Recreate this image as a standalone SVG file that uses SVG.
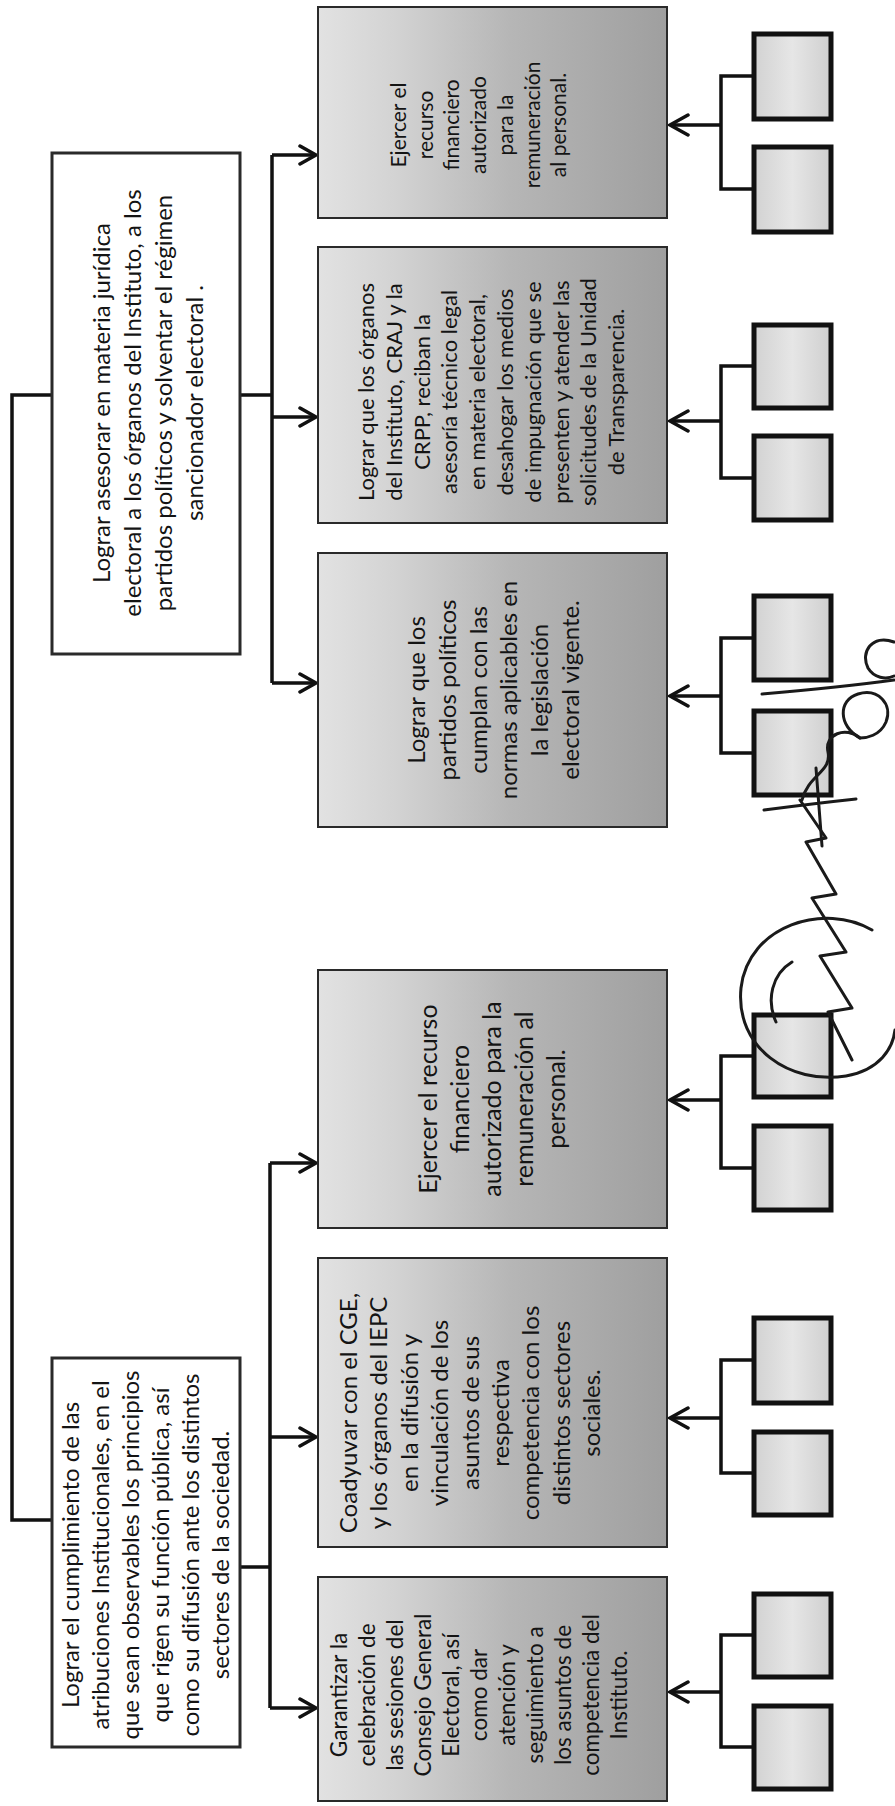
<svg xmlns="http://www.w3.org/2000/svg" width="895" height="1806" viewBox="0 0 895 1806">
<defs>
<linearGradient id="gBox" x1="0" y1="0" x2="1" y2="0">
<stop offset="0" stop-color="#e2e2e2"/>
<stop offset="0.22" stop-color="#d3d3d3"/>
<stop offset="0.55" stop-color="#b6b6b6"/>
<stop offset="1" stop-color="#9f9f9f"/>
</linearGradient>
<linearGradient id="gSq" x1="0" y1="0" x2="1" y2="0">
<stop offset="0" stop-color="#d2d2d2"/>
<stop offset="0.5" stop-color="#e6e6e6"/>
<stop offset="1" stop-color="#cfcfcf"/>
</linearGradient>
<style>
.main{fill:#fff;stroke:#2a2a2a;stroke-width:3}
.child{fill:url(#gBox);stroke:#2a2a2a;stroke-width:2}
.sq{fill:url(#gSq);stroke:#111;stroke-width:5}
.ln{fill:none;stroke:#111;stroke-width:3.5}
.ah{fill:none;stroke:#111;stroke-width:3.5;stroke-linecap:round;stroke-linejoin:miter}
.sig{fill:none;stroke:#1a1a1a;stroke-width:3;stroke-linecap:round;stroke-linejoin:round}
text{font-family:Lato,"Liberation Sans",sans-serif;fill:#141414;text-anchor:middle}
</style>
</defs>

<g id="connectors">
<path class="ln" d="M52 395 H12 V1520 H52"/>
<path class="ln" d="M240 395 H272 M272 155 V683 M272 155 H316 M272 417 H316 M272 683 H316"/>
<path class="ah" d="M300 146 L316 155 L300 164 M300 408 L316 417 L300 426 M300 674 L316 683 L300 692"/>
<path class="ln" d="M240 1567 H270 M270 1163 V1708 M270 1163 H316 M270 1437 H316 M270 1708 H316"/>
<path class="ah" d="M300 1154 L316 1163 L300 1172 M300 1428 L316 1437 L300 1446 M300 1699 L316 1708 L300 1717"/>
<path class="ln" d="M754 76 H721 V189 H754 M721 125 H670 M754 366 H721 V478 H754 M721 421 H670 M754 638 H721 V753 H754 M721 696 H670 M754 1056 H721 V1168 H754 M721 1100 H670 M754 1360 H721 V1473 H754 M721 1418 H670 M754 1635 H721 V1747 H754 M721 1692 H670"/>
<path class="ah" d="M688 115 L670 125 L688 135 M688 411 L670 421 L688 431 M688 686 L670 696 L688 706 M688 1090 L670 1100 L688 1110 M688 1408 L670 1418 L688 1428 M688 1682 L670 1692 L688 1702"/>
</g>

<g id="n-asesorar">
<rect class="main" x="52" y="153" width="188" height="501"/>
<text font-size="24" transform="translate(110,403) rotate(-90)"><tspan x="0" y="0">Lograr asesorar en materia jurídica</tspan><tspan x="0" dy="31">electoral a los órganos del Instituto, a los</tspan><tspan x="0" dy="31">partidos políticos y solventar el régimen</tspan><tspan x="0" dy="31">sancionador electoral .</tspan></text>
</g>

<g id="n-cumplimiento">
<rect class="main" x="52" y="1358" width="188" height="389"/>
<text font-size="24" transform="translate(79,1555) rotate(-90)"><tspan x="0" y="0">Lograr el cumplimiento de las</tspan><tspan x="0" dy="30">atribuciones Institucionales, en el</tspan><tspan x="0" dy="30">que sean observables los principios</tspan><tspan x="0" dy="30">que rigen su función pública, así</tspan><tspan x="0" dy="30">como su difusión ante los distintos</tspan><tspan x="0" dy="30">sectores de la sociedad.</tspan></text>
</g>

<g id="n-ejercer-r">
<rect class="child" x="318" y="7" width="349" height="211"/>
<text font-size="21" transform="translate(406,125) rotate(-90)"><tspan x="0" y="0">Ejercer el</tspan><tspan x="0" dy="26.7">recurso</tspan><tspan x="0" dy="26.7">financiero</tspan><tspan x="0" dy="26.7">autorizado</tspan><tspan x="0" dy="26.7">para la</tspan><tspan x="0" dy="26.7">remuneración</tspan><tspan x="0" dy="26.7">al personal.</tspan></text>
</g>

<g id="n-crpp">
<rect class="child" x="318" y="247" width="349" height="276"/>
<text font-size="22" transform="translate(374,392) rotate(-90)"><tspan x="0" y="0">Lograr que los órganos</tspan><tspan x="0" dy="27.8">del Instituto, CRAJ y la</tspan><tspan x="0" dy="27.8">CRPP, reciban la</tspan><tspan x="0" dy="27.8">asesoría técnico legal</tspan><tspan x="0" dy="27.8">en materia electoral,</tspan><tspan x="0" dy="27.8">desahogar los medios</tspan><tspan x="0" dy="27.8">de impugnación que se</tspan><tspan x="0" dy="27.8">presenten y atender las</tspan><tspan x="0" dy="27.8">solicitudes de la Unidad</tspan><tspan x="0" dy="27.8">de Transparencia.</tspan></text>
</g>

<g id="n-partidos">
<rect class="child" x="318" y="553" width="349" height="274"/>
<text font-size="24" transform="translate(425,690) rotate(-90)"><tspan x="0" y="0">Lograr que los</tspan><tspan x="0" dy="30.8">partidos políticos</tspan><tspan x="0" dy="30.8">cumplan con las</tspan><tspan x="0" dy="30.8">normas aplicables en</tspan><tspan x="0" dy="30.8">la legislación</tspan><tspan x="0" dy="30.8">electoral vigente.</tspan></text>
</g>

<g id="n-ejercer-l">
<rect class="child" x="318" y="970" width="349" height="258"/>
<text font-size="25" transform="translate(437,1099) rotate(-90)"><tspan x="0" y="0">Ejercer el recurso</tspan><tspan x="0" dy="32">financiero</tspan><tspan x="0" dy="32">autorizado para la</tspan><tspan x="0" dy="32">remuneración al</tspan><tspan x="0" dy="32">personal.</tspan></text>
</g>

<g id="n-coadyuvar">
<rect class="child" x="318" y="1258" width="349" height="289"/>
<text font-size="24" transform="translate(357,1413) rotate(-90)"><tspan x="0" y="0">Coadyuvar con el CGE,</tspan><tspan x="0" dy="30.4">y los órganos del IEPC</tspan><tspan x="0" dy="30.4">en la difusión y</tspan><tspan x="0" dy="30.4">vinculación de los</tspan><tspan x="0" dy="30.4">asuntos de sus</tspan><tspan x="0" dy="30.4">respectiva</tspan><tspan x="0" dy="30.4">competencia con los</tspan><tspan x="0" dy="30.4">distintos sectores</tspan><tspan x="0" dy="30.4">sociales.</tspan></text>
</g>

<g id="n-garantizar">
<rect class="child" x="318" y="1577" width="349" height="224"/>
<text font-size="22.5" transform="translate(347,1695) rotate(-90)"><tspan x="0" y="0">Garantizar la</tspan><tspan x="0" dy="28">celebración de</tspan><tspan x="0" dy="28">las sesiones del</tspan><tspan x="0" dy="28">Consejo General</tspan><tspan x="0" dy="28">Electoral, así</tspan><tspan x="0" dy="28">como dar</tspan><tspan x="0" dy="28">atención y</tspan><tspan x="0" dy="28">seguimiento a</tspan><tspan x="0" dy="28">los asuntos de</tspan><tspan x="0" dy="28">competencia del</tspan><tspan x="0" dy="28">Instituto.</tspan></text>
</g>

<g id="leaves">
<rect class="sq" x="754" y="34" width="77" height="85"/>
<rect class="sq" x="754" y="147" width="77" height="85"/>
<rect class="sq" x="754" y="325" width="77" height="83"/>
<rect class="sq" x="754" y="436" width="77" height="84"/>
<rect class="sq" x="754" y="596" width="77" height="84"/>
<rect class="sq" x="754" y="711" width="77" height="84"/>
<rect class="sq" x="754" y="1015" width="77" height="82"/>
<rect class="sq" x="754" y="1126" width="77" height="84"/>
<rect class="sq" x="754" y="1318" width="77" height="85"/>
<rect class="sq" x="754" y="1432" width="77" height="83"/>
<rect class="sq" x="754" y="1594" width="77" height="83"/>
<rect class="sq" x="754" y="1706" width="77" height="83"/>
</g>

<g id="signature">
<path class="sig" d="M872 930 C825 902 748 925 741 988 C735 1048 790 1085 846 1076 C880 1070 893 1048 895 1030"/>
<path class="sig" d="M792 962 C772 974 766 1000 776 1022"/>
<path class="sig" d="M852 1060 L828 1012 L852 1008 L820 956 L846 952 L812 898 L836 894 L806 842 L826 838 L800 800"/>
<path class="sig" d="M764 810 C795 806 828 802 856 799 M816 768 L822 846"/>
<path class="sig" d="M802 800 C808 775 832 772 828 752 C824 734 846 726 860 738"/>
<path class="sig" d="M860 738 C838 726 838 700 858 694 C878 688 893 704 886 722 C880 736 866 738 860 738"/>
<path class="sig" d="M762 694 C808 690 850 686 894 680"/>
<path class="sig" d="M894 642 C872 634 860 652 868 668 C874 678 886 680 894 676"/>
</g>
</svg>
